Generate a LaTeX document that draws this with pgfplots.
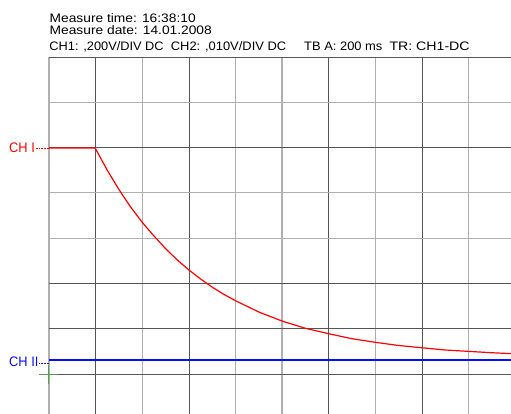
\documentclass[border=0pt]{standalone}
\usepackage{pgfplots}
\pgfplotsset{compat=1.18}
\usepackage{fontspec}
\setmainfont{Liberation Sans}

\definecolor{gridDark}{HTML}{555555}
\definecolor{gridLight}{HTML}{B0B0B0}
\definecolor{chOne}{HTML}{FF0000}
\definecolor{chTwo}{HTML}{0A0AFF}
\definecolor{trig}{HTML}{4CA04C}

% header text: size and horizontal stretch
\newcommand{\hdr}[2][1.12]{{\fontsize{12.3}{14}\selectfont\scalebox{#1}[1]{#2}}}

\begin{document}
\begin{tikzpicture}[x=1pt,y=1pt]
\useasboundingbox (-49,0) rectangle (462,414);
\begin{axis}[
  at={(0,0)}, anchor=south west,
  scale only axis, width=462pt, height=357pt,
  xmin=0, xmax=9.914, ymin=-3.883, ymax=4,
  axis line style={draw=none},
  xtick={1,3,6,8}, minor xtick={0,2,4,5,7,9},
  ytick={4,2,-1,-2,-3}, minor ytick={3,1,0},
  xticklabels={}, yticklabels={},
  major tick length=0pt, minor tick length=0pt,
  grid=both,
  major grid style={gridDark, line width=0.6pt},
  minor grid style={gridLight, line width=1.1pt},
  clip=false,
]
% CH1: level held until the switch, then the discharge curve
\addplot[chOne, line width=1.2pt] coordinates {
  (0,1.99) (0.99,1.99) (1.25,1.50) (1.5,1.075) (1.75,0.69) (2.0,0.35)
  (2.25,0.05) (2.5,-0.23) (2.75,-0.48) (3.0,-0.70) (3.25,-0.90)
  (3.5,-1.08) (3.75,-1.24) (4.0,-1.38) (4.5,-1.63) (5.0,-1.83)
  (5.5,-1.99) (6.0,-2.11) (6.5,-2.22) (7.0,-2.30) (7.5,-2.37)
  (8.0,-2.42) (8.5,-2.47) (9.0,-2.50) (9.5,-2.53) (9.914,-2.55)
};
% CH2: flat trace
\addplot[chTwo, line width=2pt] coordinates {
  (0,-2.68) (2,-2.68) (4,-2.68) (6,-2.68) (8,-2.68) (9.914,-2.68)
};
% trigger marker
\addplot[trig, only marks, mark=+, mark size=9.5pt, mark options={line width=1.2pt}]
  coordinates {(-0.01,-3.016)};
\end{axis}

% channel reference labels
\node[anchor=west, inner sep=0, text=chOne] at (-40,266)
  {\fontsize{13.8}{15}\selectfont\scalebox{0.93}[1]{CH I}};
\draw[chOne, densely dotted, line width=0.5pt] (-13,266) -- (0,266);
\node[anchor=west, inner sep=0, text=chTwo] at (-40,52)
  {\fontsize{13.8}{15}\selectfont\scalebox{0.93}[1]{CH II}};
\draw[chTwo, densely dotted, line width=0.5pt] (-10,51) -- (0,51);

% header
\node[anchor=base west, inner sep=0] at (0.5,391.7) {\hdr{Measure time: 16:38:10}};
\node[anchor=base west, inner sep=0] at (0.5,379.3) {\hdr{Measure date: 14.01.2008}};
\node[anchor=base west, inner sep=0] at (0.3,363) {\hdr[1.04]{CH1: ,200V/DIV DC}};
\node[anchor=base west, inner sep=0] at (121.7,363) {\hdr[1.05]{CH2: ,010V/DIV DC}};
\node[anchor=base west, inner sep=0] at (255,363) {\hdr[1.05]{TB A: 200 ms}};
\node[anchor=base west, inner sep=0] at (340.3,363) {\hdr[1.15]{TR: CH1-DC}};
\end{tikzpicture}
\end{document}
